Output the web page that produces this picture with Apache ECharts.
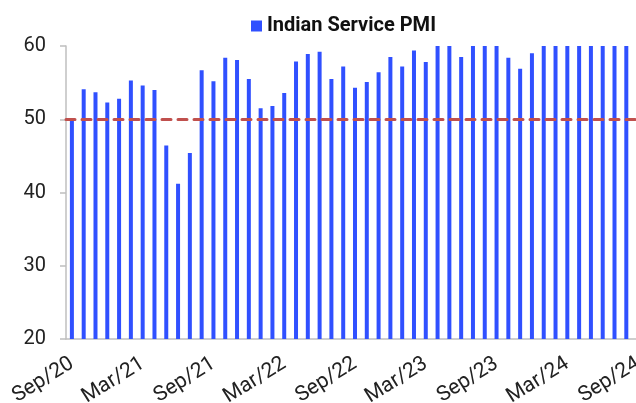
<!DOCTYPE html>
<html>
<head>
<meta charset="utf-8">
<script src="https://cdn.jsdelivr.net/npm/echarts@6/dist/echarts.min.js"></script>
<style>
  html, body { margin: 0; padding: 0; background: #fff; }
  #main { width: 636px; height: 403px; }
</style>
</head>
<body>
<div id="main"></div>
<script>
var chartDom = document.getElementById('main');
var myChart = echarts.init(chartDom);
var option;

// months, Sep/20 .. Sep/24
const months = [
  'Sep/20', 'Oct/20', 'Nov/20', 'Dec/20', 'Jan/21', 'Feb/21',
  'Mar/21', 'Apr/21', 'May/21', 'Jun/21', 'Jul/21', 'Aug/21',
  'Sep/21', 'Oct/21', 'Nov/21', 'Dec/21', 'Jan/22', 'Feb/22',
  'Mar/22', 'Apr/22', 'May/22', 'Jun/22', 'Jul/22', 'Aug/22',
  'Sep/22', 'Oct/22', 'Nov/22', 'Dec/22', 'Jan/23', 'Feb/23',
  'Mar/23', 'Apr/23', 'May/23', 'Jun/23', 'Jul/23', 'Aug/23',
  'Sep/23', 'Oct/23', 'Nov/23', 'Dec/23', 'Jan/24', 'Feb/24',
  'Mar/24', 'Apr/24', 'May/24', 'Jun/24', 'Jul/24', 'Aug/24',
  'Sep/24'
];

const servicePmi = [
  49.8, 54.1, 53.7, 52.3, 52.8, 55.3,
  54.6, 54.0, 46.4, 41.2, 45.4, 56.7,
  55.2, 58.4, 58.1, 55.5, 51.5, 51.8,
  53.6, 57.9, 58.9, 59.2, 55.5, 57.2,
  54.3, 55.1, 56.4, 58.5, 57.2, 59.4,
  57.8, 62.0, 61.2, 58.5, 62.3, 60.1,
  61.0, 58.4, 56.9, 59.0, 61.8, 60.6,
  61.2, 60.8, 60.2, 60.5, 60.3, 60.9,
  57.7
];

const threshold = 50;
const yTicks = { min: 20, max: 60, step: 10 };

const fontFam = 'Roboto, "DejaVu Sans", sans-serif';

option = {
  animation: false,
  backgroundColor: '#fff',
  legend: {
    left: 246,
    top: 11,
    icon: 'rect',
    itemWidth: 11,
    itemHeight: 11,
    itemGap: 6,
    textStyle: { fontFamily: fontFam, fontSize: 20, fontWeight: 'bold', color: '#111' },
    data: ['Indian Service PMI']
  },
  grid: {
    left: 66,
    width: 578,
    top: 46,
    bottom: 64,
    containLabel: false,
    outerBoundsMode: 'none'
  },
  xAxis: {
    type: 'category',
    data: months,
    boundaryGap: true,
    axisLine: { lineStyle: { color: '#bfbfbf', width: 1.5 } },
    axisTick: { interval: 5, length: 6, lineStyle: { color: '#bfbfbf', width: 1.5 } },
    axisLabel: {
      interval: 5,
      rotate: 32,
      margin: 23,
      fontFamily: fontFam,
      fontSize: 21,
      color: '#222'
    },
    splitLine: { show: false }
  },
  yAxis: {
    type: 'value',
    min: yTicks.min,
    max: yTicks.max,
    interval: yTicks.step,
    axisLine: { show: true, lineStyle: { color: '#bfbfbf', width: 1.5 } },
    axisTick: { show: true, length: 6, lineStyle: { color: '#bfbfbf', width: 1.5 } },
    axisLabel: { margin: 20, fontFamily: fontFam, fontSize: 20, color: '#222' },
    splitLine: { show: false }
  },
  series: [
    {
      name: 'Indian Service PMI',
      type: 'bar',
      data: servicePmi,
      barWidth: 4,
      clip: true,
      itemStyle: { color: '#3050ff' },
      markLine: {
        silent: true,
        symbol: 'none',
        label: { show: false },
        lineStyle: {
          color: '#c0504d',
          width: 3,
          type: [9, 7],
          cap: 'round'
        },
        data: [{ yAxis: threshold }]
      }
    }
  ]
};

option && myChart.setOption(option);
</script>
</body>
</html>
